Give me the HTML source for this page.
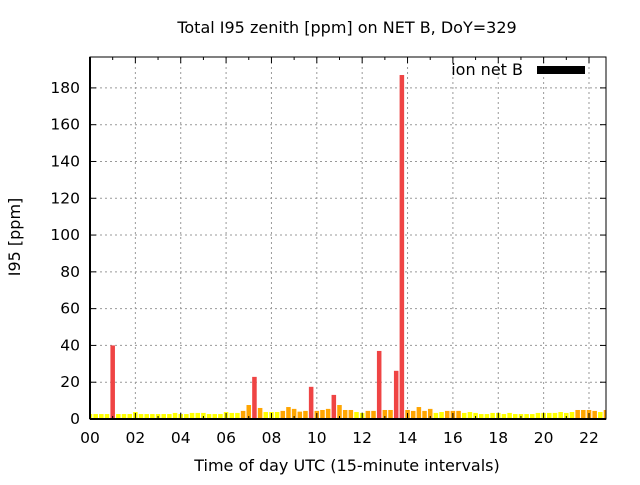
<!DOCTYPE html>
<html><head><meta charset="utf-8"><style>
body{margin:0;background:#fff}
svg text{font-family:"DejaVu Sans","Liberation Sans",sans-serif;fill:#000}
</style></head><body>
<svg id="chart" width="640" height="480" xmlns="http://www.w3.org/2000/svg">
<text x="347" y="33" font-size="16" text-anchor="middle">Total I95 zenith [ppm] on NET B, DoY=329</text>
<text transform="translate(20,237) rotate(-90)" font-size="16" text-anchor="middle">I95 [ppm]</text>
<text x="347" y="471" font-size="16" text-anchor="middle">Time of day UTC (15-minute intervals)</text>
<g id="grid"></g><g id="bars"></g><g id="axes"></g>
<text x="523" y="75" font-size="16" text-anchor="end">ion net B</text>
<rect x="537" y="66" width="48" height="8" fill="#000"/>
</svg>
<script>
const values=[2.7,2.7,2.7,2.7,40,2.7,2.7,2.7,3.8,2.7,2.7,2.7,2.7,2.7,2.7,3.3,2.7,2.7,3.3,3.3,3.3,2.7,2.7,2.7,3.8,3.3,3.3,4.4,7.6,22.9,6,3.8,3.8,3.8,4.4,6.5,5.5,4.0,4.4,17.5,4.4,4.9,5.5,13.1,7.6,4.9,4.9,3.8,3.3,4.4,4.4,37,4.9,4.9,26.2,187,4.9,4.4,6.5,4.4,5.5,3.3,3.8,4.4,4.4,4.4,3.3,3.8,3.3,2.7,2.7,3.3,3.3,2.7,3.3,2.7,2.7,2.7,2.7,3.3,3.3,3.3,3.3,3.8,3.3,3.8,4.9,4.9,4.9,4.4,3.8,4.9];
const xTickLabels=["00","02","04","06","08","10","12","14","16","18","20","22"];
const yTicks=[0,20,40,60,80,100,120,140,160,180];
const L=90,R=606,T=57,B=419,yMax=196.8,nInt=91;
const xs=i=>L+(R-L)*i/nInt;
const ys=v=>B-(B-T)*v/yMax;
const ns="http://www.w3.org/2000/svg";
function mk(tag,parent,attrs){const e=document.createElementNS(ns,tag);for(const k in attrs)e.setAttribute(k,attrs[k]);parent.appendChild(e);return e;}
const grid=document.getElementById('grid'),bars=document.getElementById('bars'),axes=document.getElementById('axes');
yTicks.forEach(v=>{const y=ys(v);
 if(v>0){const g=mk('line',grid,{x1:L,x2:R,y1:y,y2:y,stroke:'#999','stroke-dasharray':'2,3'});
 
 }
 const t=mk('line',axes,{x1:L,x2:L+6,y1:y,y2:y,stroke:'#000'});
 
 
 mk('line',axes,{x1:R-6,x2:R,y1:y,y2:y,stroke:'#000'});
 const l=mk('text',axes,{x:L-10,y:y+5,'font-size':15.5,'text-anchor':'end'});l.textContent=v;
 
 
});
xTickLabels.forEach((s,k)=>{const x=xs(k*8);
 if(k>0){const g=mk('line',grid,{x1:x,x2:x,y1:T,y2:B,stroke:'#999','stroke-dasharray':'2,3'});
 
 }
 mk('line',axes,{x1:x,x2:x,y1:B,y2:B-6,stroke:'#000'});
 mk('line',axes,{x1:x,x2:x,y1:T,y2:T+6,stroke:'#000'});
 const l=mk('text',axes,{x:x,y:B+24,'font-size':15.5,'text-anchor':'middle'});l.textContent=s;
 
 
});
for(let h=1;h<23;h+=2){const x=xs(h*4);mk('line',axes,{x1:x,x2:x,y1:B,y2:B-3,stroke:'#000'});mk('line',axes,{x1:x,x2:x,y1:T,y2:T+3,stroke:'#000'});}
mk('clipPath',document.getElementById('chart'),{id:'clip'}).appendChild(document.createElementNS(ns,'rect'));
const cr=document.querySelector('#clip rect');cr.setAttribute('x',L);cr.setAttribute('y',T);cr.setAttribute('width',R-L);cr.setAttribute('height',B-T);
bars.setAttribute('clip-path','url(#clip)');
const w=(R-L)/nInt*0.8;
values.forEach((v,i)=>{const c=v<3.9?'#ffff00':(v<10?'#ffa500':'#ef4444');
 const b=mk('rect',bars,{x:xs(i)-w/2,y:ys(v),width:w,height:B-ys(v),fill:c});
 
 
});
const fr=mk('rect',axes,{x:L,y:T,width:R-L,height:B-T,fill:'none',stroke:'#000','stroke-width':1});


mk('line',axes,{x1:L,x2:R,y1:B,y2:B,stroke:'#000','stroke-width':2});
mk('line',axes,{x1:L,x2:L,y1:T,y2:B,stroke:'#000','stroke-width':2});
</script>
</body></html>
